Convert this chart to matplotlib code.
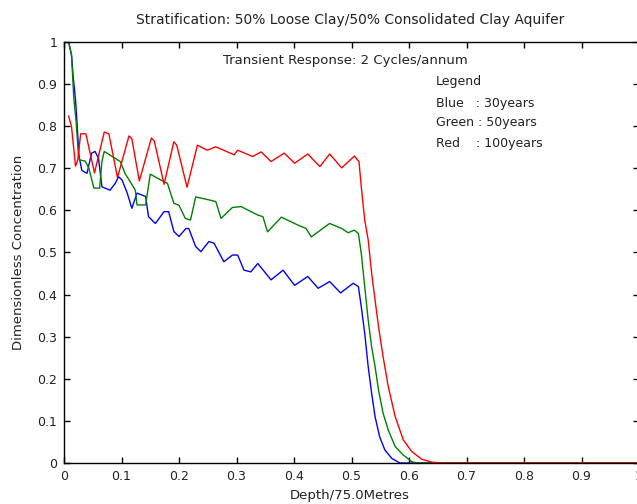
import matplotlib
matplotlib.use("Agg")
import matplotlib.pyplot as plt

plt.rcParams['font.family'] = ['DejaVu Sans']

# Blue : 30 years
blue_x = [0.008, 0.013, 0.016, 0.020, 0.023, 0.026, 0.031, 0.040, 0.048, 0.054, 0.060, 0.066,
          0.080, 0.089, 0.095, 0.101, 0.110, 0.118, 0.127, 0.142, 0.147, 0.159, 0.174, 0.182,
          0.191, 0.200, 0.212, 0.217, 0.229, 0.238, 0.252, 0.261, 0.278, 0.293, 0.302, 0.313,
          0.325, 0.337, 0.360, 0.381, 0.401, 0.424, 0.442, 0.462, 0.481, 0.503, 0.512, 0.517,
          0.523, 0.529, 0.535, 0.541, 0.549, 0.558, 0.570, 0.584, 1.0]
blue_y = [1.000, 0.970, 0.917, 0.863, 0.800, 0.730, 0.695, 0.688, 0.736, 0.740, 0.724, 0.656,
          0.648, 0.664, 0.680, 0.672, 0.641, 0.605, 0.641, 0.633, 0.585, 0.569, 0.597, 0.597,
          0.550, 0.538, 0.557, 0.557, 0.514, 0.502, 0.526, 0.522, 0.478, 0.494, 0.494, 0.458,
          0.454, 0.474, 0.435, 0.458, 0.422, 0.443, 0.415, 0.431, 0.404, 0.427, 0.419, 0.371,
          0.308, 0.229, 0.166, 0.110, 0.062, 0.031, 0.011, 0.000, 0.000]

# Green : 50 years
green_x = [0.005, 0.008, 0.013, 0.017, 0.021, 0.025, 0.027, 0.037, 0.043, 0.052, 0.062, 0.066,
           0.070, 0.084, 0.098, 0.106, 0.117, 0.124, 0.127, 0.142, 0.150, 0.166, 0.180, 0.191,
           0.200, 0.211, 0.220, 0.229, 0.252, 0.264, 0.273, 0.293, 0.308, 0.337, 0.346, 0.354,
           0.378, 0.407, 0.421, 0.430, 0.462, 0.483, 0.494, 0.505, 0.512, 0.517, 0.523, 0.529,
           0.535, 0.541, 0.547, 0.555, 0.564, 0.576, 0.590, 0.605, 0.614, 1.0]
green_y = [1.000, 1.000, 0.970, 0.867, 0.812, 0.735, 0.720, 0.717, 0.701, 0.653, 0.653, 0.717,
           0.740, 0.728, 0.716, 0.688, 0.664, 0.648, 0.613, 0.613, 0.686, 0.674, 0.664, 0.617,
           0.612, 0.581, 0.577, 0.632, 0.625, 0.621, 0.581, 0.607, 0.609, 0.589, 0.585, 0.549,
           0.584, 0.565, 0.557, 0.537, 0.569, 0.557, 0.547, 0.553, 0.545, 0.498, 0.419, 0.340,
           0.276, 0.229, 0.173, 0.118, 0.078, 0.039, 0.019, 0.003, 0.000, 0.000]

# Red : 100 years
red_x = [0.008, 0.013, 0.020, 0.024, 0.029, 0.038, 0.053, 0.070, 0.078, 0.093, 0.113, 0.118,
         0.131, 0.152, 0.157, 0.174, 0.191, 0.196, 0.214, 0.232, 0.249, 0.264, 0.296, 0.302,
         0.328, 0.343, 0.360, 0.383, 0.401, 0.424, 0.445, 0.462, 0.483, 0.505, 0.513, 0.517,
         0.523, 0.529, 0.535, 0.541, 0.547, 0.555, 0.564, 0.576, 0.590, 0.605, 0.622, 0.640,
         0.657, 1.0]
red_y = [0.824, 0.800, 0.705, 0.720, 0.782, 0.782, 0.689, 0.786, 0.782, 0.678, 0.777, 0.770,
         0.670, 0.772, 0.765, 0.662, 0.763, 0.755, 0.655, 0.755, 0.743, 0.751, 0.732, 0.743,
         0.728, 0.739, 0.716, 0.736, 0.712, 0.734, 0.704, 0.734, 0.701, 0.729, 0.716, 0.656,
         0.577, 0.530, 0.451, 0.387, 0.324, 0.252, 0.181, 0.110, 0.055, 0.027, 0.009, 0.002,
         0.000, 0.000]

x_ticks = [0, 0.1, 0.2, 0.3, 0.4, 0.5, 0.6, 0.7, 0.8, 0.9, 1]
x_tick_labels = ['0', '0.1', '0.2', '0.3', '0.4', '0.5', '0.6', '0.7', '0.8', '0.9', '1']
y_ticks = [0, 0.1, 0.2, 0.3, 0.4, 0.5, 0.6, 0.7, 0.8, 0.9, 1]
y_tick_labels = ['0', '0.1', '0.2', '0.3', '0.4', '0.5', '0.6', '0.7', '0.8', '0.9', '1']

title = "Stratification: 50% Loose Clay/50% Consolidated Clay Aquifer"
subtitle = "Transient Response: 2 Cycles/annum"
legend_lines = ["Legend", "Blue   : 30years", "Green : 50years", "Red    : 100years"]

W, H = 637, 504
fig = plt.figure(figsize=(W / 100, H / 100), dpi=100)
ax = fig.add_axes([64 / W, 1 - 463 / H, 575 / W, 421 / H])

ax.plot(blue_x, blue_y, color='#0000ff', lw=1.0)
ax.plot(green_x, green_y, color='#008000', lw=1.0)
ax.plot(red_x, red_y, color='#ff0000', lw=1.0)

ax.set_xlim(0, 1)
ax.set_ylim(0, 1)
ax.set_xticks(x_ticks)
ax.set_xticklabels(x_tick_labels)
ax.set_yticks(y_ticks)
ax.set_yticklabels(y_tick_labels)
ax.tick_params(direction='in', length=4, width=1, top=True, right=True,
               labelsize=9, pad=5, labelcolor='#222222')
for s in ax.spines.values():
    s.set_linewidth(1.0)

ax.set_xlabel("Depth/75.0Metres", fontsize=9.5, color='#222222')
ax.xaxis.set_label_coords(0.496, -0.061)
ax.set_ylabel("Dimensionless Concentration", fontsize=9.5, color='#222222')
ax.yaxis.set_label_coords(-0.068, 0.50)

fig.text(350 / W, 1 - 20 / H, title, ha='center', va='center', fontsize=10, color='#222222')
ax.text(0.490, 0.955, subtitle, ha='center', va='center', fontsize=9.5, color='#222222')
for txt, yy in zip(legend_lines, [0.905, 0.855, 0.808, 0.760]):
    ax.text(0.647, yy, txt, ha='left', va='center', fontsize=9, color='#222222')

fig.savefig("out.png", dpi=100)
